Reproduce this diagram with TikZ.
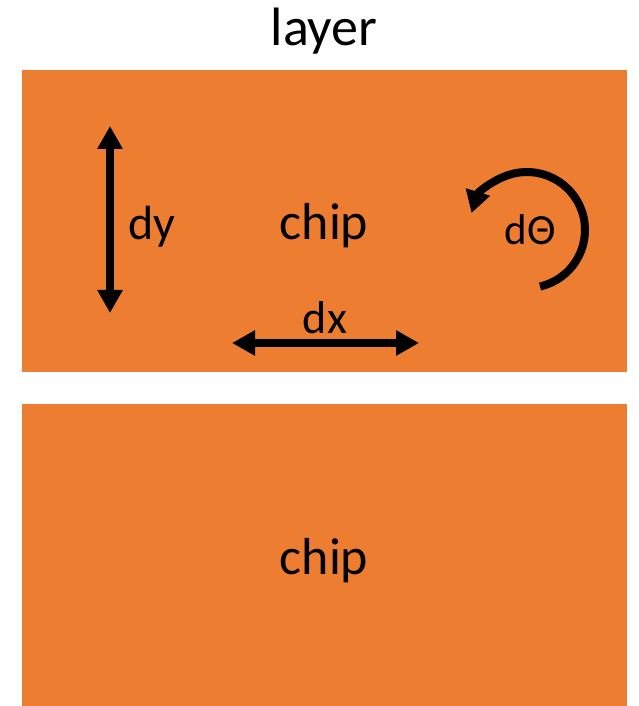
\documentclass[tikz,border=0pt]{standalone}
\usepackage{fontspec}
\setmainfont{Carlito}
\usetikzlibrary{arrows.meta,calc}
\definecolor{chiporange}{HTML}{ED7D31}
\tikzset{
  chipbox/.style={fill=chiporange, draw=none},
  lbl/.style={anchor=base, inner sep=0pt, text=black},
  motion/.style={line width=8pt, {Triangle[length=23pt,width=24pt]}-{Triangle[length=23pt,width=24pt]}},
  rotarrow/.style={line width=8pt, -{Triangle[length=22pt,width=24pt]}}
}
\begin{document}
\begin{tikzpicture}[x=1pt,y=1pt]
\useasboundingbox (0,0) rectangle (638,706);
% chips
\path[chipbox] (22,334) rectangle (627,636);
\path[chipbox] (22,0) rectangle (627,302);
% labels
\node[lbl, font=\fontsize{54}{60}\selectfont] (layer) at (324,660) {layer};
\node[lbl, font=\fontsize{52}{60}\selectfont] (chipA) at (324,466) {chip};
\node[lbl, font=\fontsize{52}{60}\selectfont] (chipB) at (324,131) {chip};
\node[lbl, font=\fontsize{48}{56}\selectfont] (dy) at (152,466) {dy};
\node[lbl, font=\fontsize{46}{54}\selectfont] (dx) at (325,372) {dx};
\node[lbl, font=\fontsize{43}{50}\selectfont] (dth) at (530,461) {dΘ};
% arrows
\coordinate (dyB) at (110,393);
\coordinate (dyT) at (110,580);
\coordinate (dxL) at (232,363);
\coordinate (dxR) at (419,363);
\coordinate (rotS) at ($(527,476)+(-77:58)$);
\draw[motion] (dyB) -- (dyT);
\draw[motion] (dxL) -- (dxR);
\draw[rotarrow] (rotS) arc[start angle=-77, end angle=163, radius=58];
\end{tikzpicture}
\end{document}
